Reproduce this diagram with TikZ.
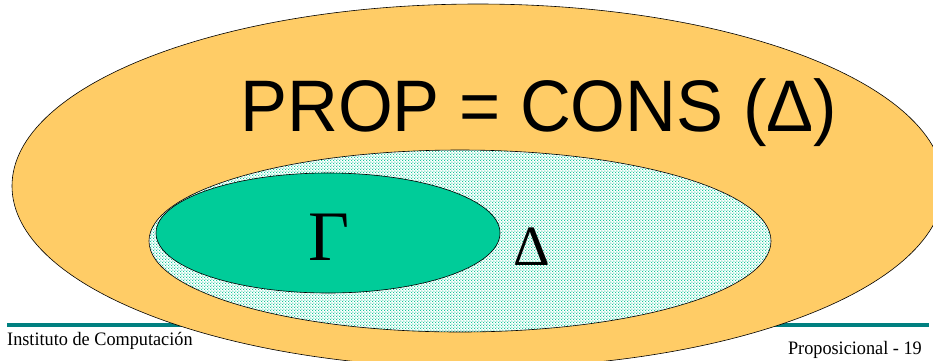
\documentclass[tikz,border=0pt]{standalone}
\usepackage{fontspec}
\setmainfont{Liberation Serif}
\newfontfamily\arialfont{Liberation Sans}
\usetikzlibrary{patterns}
\definecolor{orangefill}{RGB}{255,204,102}
\definecolor{greenfill}{RGB}{0,204,153}
\definecolor{dotgreen}{RGB}{0,195,145}
\definecolor{tealline}{RGB}{0,128,128}
\pgfdeclarepatternformonly{mydots}{\pgfqpoint{0pt}{0pt}}{\pgfqpoint{3.2pt}{3.2pt}}{\pgfqpoint{3.2pt}{3.2pt}}{%
  \pgfpathcircle{\pgfqpoint{0.8pt}{0.8pt}}{0.75pt}%
  \pgfpathcircle{\pgfqpoint{2.4pt}{2.4pt}}{0.75pt}%
  \pgfusepath{fill}}
\tikzset{
  outline/.style={draw=black, line width=0.6pt},
  bigtext/.style={inner sep=0pt, font=\arialfont\fontsize{73}{73}\selectfont},
  greektext/.style={inner sep=0pt},
  foottext/.style={inner sep=0pt, font=\fontsize{19}{19}\selectfont}
}
\begin{document}
\begin{tikzpicture}[x=1pt, y=-1pt]
\useasboundingbox (0,0) rectangle (933,360);
\clip (0,0) rectangle (933,360);
% footer rule
\draw[tealline, line width=3.5pt] (7,325) -- (929,325);
% outer ellipse
\filldraw[outline, fill=orangefill] (478,186) ellipse [x radius=466, y radius=182];
% dotted ellipse Delta
\fill[white] (460,241) ellipse [x radius=311, y radius=91];
\fill[pattern=mydots, pattern color=dotgreen] (460,241) ellipse [x radius=311, y radius=91];
\draw[outline] (460,241) ellipse [x radius=311, y radius=91];
% green ellipse Gamma
\filldraw[outline, fill=greenfill] (328,233) ellipse [x radius=172, y radius=60];
% texts
\node[bigtext, anchor=base west] (title) at (240,131) {\scalebox{0.965}[1]{PROP = CONS (Δ)}};
\node[greektext, anchor=base, font=\fontsize{71}{71}\selectfont] (gamma) at (329,260) {Γ};
\node[greektext, anchor=base, font=\fontsize{57}{57}\selectfont] (delta) at (532,265) {Δ};
\node[foottext, anchor=base west] (inst) at (7,345) {\scalebox{0.96}[1]{Instituto de Computación}};
\node[foottext, anchor=base east] (prop) at (922,354) {\scalebox{0.96}[1]{Proposicional - 19}};
\end{tikzpicture}
\end{document}
